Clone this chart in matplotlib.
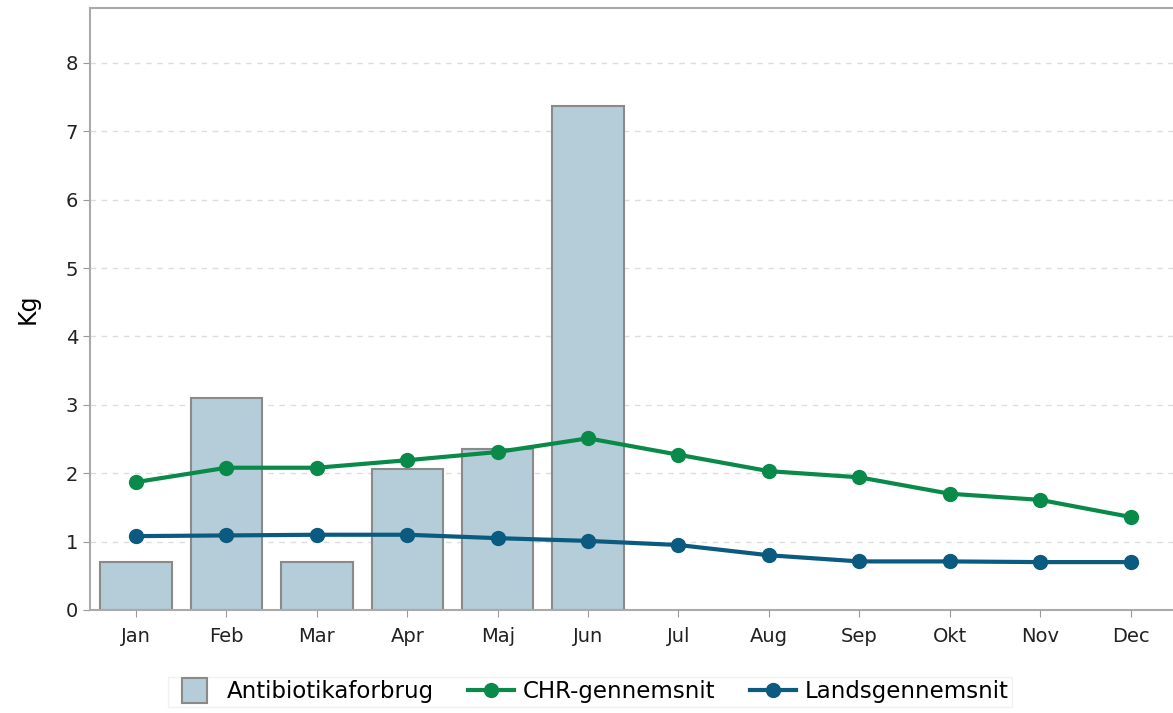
import matplotlib.pyplot as plt
import matplotlib.patches as mpatches
from matplotlib.legend_handler import HandlerPatch
import numpy as np

plt.rcParams['font.family'] = ['DejaVu Sans']

months = ['Jan', 'Feb', 'Mar', 'Apr', 'Maj', 'Jun', 'Jul', 'Aug', 'Sep', 'Okt', 'Nov', 'Dec']
forbrug = [0.70, 3.10, 0.70, 2.06, 2.36, 7.37]
chr_avg = [1.87, 2.08, 2.08, 2.19, 2.31, 2.51, 2.27, 2.03, 1.94, 1.70, 1.61, 1.36]
lands_avg = [1.08, 1.09, 1.10, 1.10, 1.05, 1.01, 0.95, 0.80, 0.71, 0.71, 0.70, 0.70]

bar_color = '#b5cdd8'
bar_edge = '#8a8a8a'


def square_patch(legend, orig_handle, xdescent, ydescent, width, height, fontsize):
    # square box for the bar entry, centred in the handle area
    s = height * 1.55
    return mpatches.Rectangle(((width - s) / 2 - xdescent, -ydescent + (height - s) / 2), s, s)


fig = plt.figure(figsize=(11.73, 7.13), dpi=100)
ax = fig.add_axes([0.0767, 0.1445, 0.9233, 0.844])

x = np.arange(len(months))
ax.bar(x[:len(forbrug)], forbrug, width=0.79, color=bar_color, edgecolor=bar_edge,
       linewidth=1.5, zorder=2)
l1, = ax.plot(x, chr_avg, color='#0a8a4a', linewidth=3, marker='o', markersize=10,
              label='CHR-gennemsnit', zorder=3)
l2, = ax.plot(x, lands_avg, color='#0b5a80', linewidth=3, marker='o', markersize=10,
              label='Landsgennemsnit', zorder=3)

ax.set_xlim(-0.51, 11.47)
ax.set_ylim(0, 8.8)
ax.set_yticks(range(0, 9))
ax.set_xticks(x)
ax.set_xticklabels(months)
ax.tick_params(axis='both', labelsize=14, colors='#999999', labelcolor='#222222', length=5)
ax.tick_params(axis='x', pad=7)
ax.grid(axis='y', linestyle=(0, (4, 4)), color='#dddddd', linewidth=1, zorder=0)
ax.set_ylabel('Kg', fontsize=17, labelpad=19)

for side in ['left', 'top', 'bottom']:
    ax.spines[side].set_color('#aaaaaa')
    ax.spines[side].set_linewidth(1.5)
ax.spines['right'].set_visible(False)

box = mpatches.Rectangle((0, 0), 1, 1, facecolor=bar_color, edgecolor=bar_edge, linewidth=1.5)
ax.legend([box, l1, l2], ['Antibiotikaforbrug', 'CHR-gennemsnit', 'Landsgennemsnit'],
          loc='upper center', bbox_to_anchor=(0.462, -0.1), ncol=3, fontsize=16.5,
          frameon=True, edgecolor='#eeeeee', fancybox=False, handlelength=2.0,
          handletextpad=0.4, columnspacing=1.5, borderpad=0.15, borderaxespad=0.3,
          handler_map={mpatches.Rectangle: HandlerPatch(patch_func=square_patch)})

fig.savefig('out.png', dpi=100, facecolor='white')
